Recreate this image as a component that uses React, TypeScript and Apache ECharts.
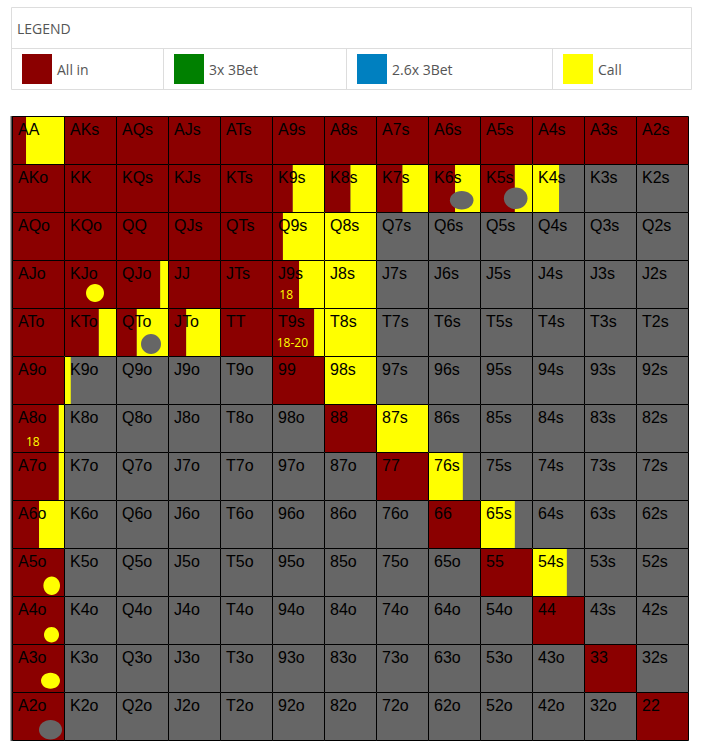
import React, { useEffect, useRef } from "react";
import * as echarts from "echarts";

const ranks = ["A", "K", "Q", "J", "T", "9", "8", "7", "6", "5", "4", "3", "2"];

const legendNames = ["All in", "3x 3Bet", "2.6x 3Bet", "Call"];
const legendColors = ["#8B0000", "#008000", "#0080C0", "#FFFF00"];

const allInFull = [
  "AKs", "AQs", "AJs", "ATs", "A9s", "A8s", "A7s", "A6s", "A5s", "A4s", "A3s", "A2s",
  "AKo", "KK", "KQs", "KJs", "KTs",
  "AQo", "KQo", "QQ", "QJs", "QTs",
  "AJo", "KJo", "JJ", "JTs",
  "ATo", "TT", "A9o", "99", "88", "77", "66", "55", "A5o", "44", "A4o", "33", "A3o", "22", "A2o",
];
const callFull = ["Q8s", "J8s", "T8s", "98s", "87s"];

const mixedHands = ["AA", "K9s", "K8s", "K7s", "K6s", "K5s", "K4s", "Q9s", "QJo", "J9s", "KTo", "QTo", "JTo", "T9s", "K9o", "A8o", "A7o", "76s", "A6o", "65s", "54s"];
const mixedAllIn = [27, 40, 51, 51, 52, 67, 0, 21, 85, 52, 67, 40, 35, 81, 0, 90, 90, 0, 52, 0, 0];
const mixedCall = [73, 60, 49, 49, 48, 33, 52, 79, 15, 48, 33, 60, 65, 19, 13, 10, 10, 67, 48, 67, 67];

const dotHands = ["KJo", "QTo", "K6s", "K5s", "A5o", "A4o", "A3o", "A2o"];
const dotActions = ["call", "fold", "fold", "fold", "call", "call", "call", "fold"];

const noteHands = ["J9s", "T9s", "A8o"];
const noteTexts = ["18", "18-20", "18"];

// layout/styling (not data)
const dotGeom: Record<string, number[]> = {
  KJo: [31, 33, 9, 9],
  QTo: [35, 36, 10, 10],
  K6s: [33.7, 36.2, 11.8, 9.2],
  K5s: [35.7, 34.3, 11.8, 10.8],
  A5o: [39.7, 37.8, 8.3, 9.2],
  A4o: [39.5, 38.7, 7.5, 7.7],
  A3o: [38.5, 36.7, 9.5, 8],
  A2o: [38.5, 37.7, 11.5, 9.7],
};
const noteGeom: Record<string, number[]> = {
  J9s: [7.3, 34.3],
  T9s: [4.7, 34.7],
  A8o: [14, 37.7],
};

const RED = "#8B0000";
const YELLOW = "#FFFF00";
const GRAY = "#666666";

function handName(r: number, c: number) {
  if (r === c) return ranks[r] + ranks[r];
  if (c > r) return ranks[r] + ranks[c] + "s";
  return ranks[c] + ranks[r] + "o";
}

export default function App() {
  const ref = useRef<HTMLDivElement>(null);
  useEffect(() => {
    if (!ref.current) return;
    const chart = echarts.init(ref.current, null, { renderer: "svg" });

    const cells: any[] = [];
    for (let r = 0; r < 13; r++) {
      for (let c = 0; c < 13; c++) {
        const name = handName(r, c);
        let a = 0;
        let k = 0;
        if (allInFull.includes(name)) a = 100;
        else if (callFull.includes(name)) k = 100;
        else {
          const i = mixedHands.indexOf(name);
          if (i >= 0) {
            a = mixedAllIn[i];
            k = mixedCall[i];
          }
        }
        cells.push({ name, value: [c, r, a, k] });
      }
    }

    const renderItem = (params: any, api: any) => {
      const c = api.value(0);
      const r = api.value(1);
      const a = api.value(2) / 100;
      const k = api.value(3) / 100;
      const name = cells[params.dataIndex].name;
      const ctr = api.coord([c, r]);
      const sz = api.size([1, 1]);
      const w = sz[0];
      const h = sz[1];
      const x0 = ctr[0] - w / 2;
      const y0 = ctr[1] - h / 2;
      const children: any[] = [
        { type: "rect", shape: { x: x0, y: y0, width: w, height: h }, style: { fill: GRAY } },
      ];
      if (a > 0)
        children.push({ type: "rect", shape: { x: x0, y: y0, width: a * w, height: h }, style: { fill: RED } });
      if (k > 0)
        children.push({ type: "rect", shape: { x: x0 + a * w, y: y0, width: k * w, height: h }, style: { fill: YELLOW } });
      children.push({
        type: "text",
        style: {
          text: name,
          x: x0 + 6,
          y: y0 + 13,
          fill: "#000",
          font: '16px "Liberation Sans", Arial, sans-serif',
          align: "left",
          verticalAlign: "middle",
        },
      });
      const di = dotHands.indexOf(name);
      if (di >= 0) {
        const g = dotGeom[name];
        children.push({
          type: "ellipse",
          shape: { cx: x0 + g[0], cy: y0 + g[1], rx: g[2], ry: g[3] },
          style: { fill: dotActions[di] === "call" ? YELLOW : GRAY },
        });
      }
      const ni = noteHands.indexOf(name);
      if (ni >= 0) {
        const g = noteGeom[name];
        children.push({
          type: "text",
          style: {
            text: noteTexts[ni],
            x: x0 + g[0],
            y: y0 + g[1],
            fill: YELLOW,
            font: '12px "Open Sans", sans-serif',
            align: "left",
            verticalAlign: "middle",
          },
        });
      }
      children.push({
        type: "rect",
        shape: { x: x0 + 0.5, y: y0 + 0.5, width: w, height: h },
        style: { fill: "none", stroke: "#000", lineWidth: 1 },
      });
      return { type: "group", children };
    };

    // legend graphic
    const lg: any[] = [];
    const boxL = 11.5, boxR = 691.5, boxT = 7.5, boxB = 89.5, divY = 48.5;
    const colDiv = [163.5, 346.5, 552.5];
    const swX = [22, 174, 357, 563];
    lg.push({
      type: "rect",
      shape: { x: boxL, y: boxT, width: boxR - boxL, height: boxB - boxT },
      style: { fill: "#fff", stroke: "#dddddd", lineWidth: 1 },
    });
    lg.push({ type: "line", shape: { x1: boxL, y1: divY, x2: boxR, y2: divY }, style: { stroke: "#dddddd", lineWidth: 1 } });
    colDiv.forEach((x) =>
      lg.push({ type: "line", shape: { x1: x, y1: divY, x2: x, y2: boxB }, style: { stroke: "#dddddd", lineWidth: 1 } })
    );
    lg.push({
      type: "text",
      style: { text: "LEGEND", x: 17, y: 28, fill: "#555", font: '14px "Open Sans", sans-serif', verticalAlign: "middle" },
    });
    legendNames.forEach((n, i) => {
      lg.push({ type: "rect", shape: { x: swX[i], y: 54, width: 30, height: 30 }, style: { fill: legendColors[i] } });
      lg.push({
        type: "text",
        style: { text: n, x: swX[i] + 35, y: 69, fill: "#555", font: '14px "Open Sans", sans-serif', verticalAlign: "middle" },
      });
    });
    lg.push({ type: "line", shape: { x1: 11.5, y1: 116, x2: 11.5, y2: 741 }, style: { stroke: "#555", lineWidth: 2 } });

    chart.setOption({
      animation: false,
      backgroundColor: "#fff",
      grid: { left: 12, top: 116, width: 676, height: 624 },
      xAxis: { type: "category", data: ranks, show: false },
      yAxis: { type: "category", data: ranks, inverse: true, show: false },
      graphic: lg,
      series: [
        {
          type: "custom",
          renderItem,
          data: cells,
          encode: { x: 0, y: 1 },
          silent: true,
        },
      ],
    });
    return () => chart.dispose();
  }, []);
  return (
    <div
      ref={ref}
      style={{ position: "fixed", left: 0, top: 0, width: 702, height: 746, background: "#fff" }}
    />
  );
}
